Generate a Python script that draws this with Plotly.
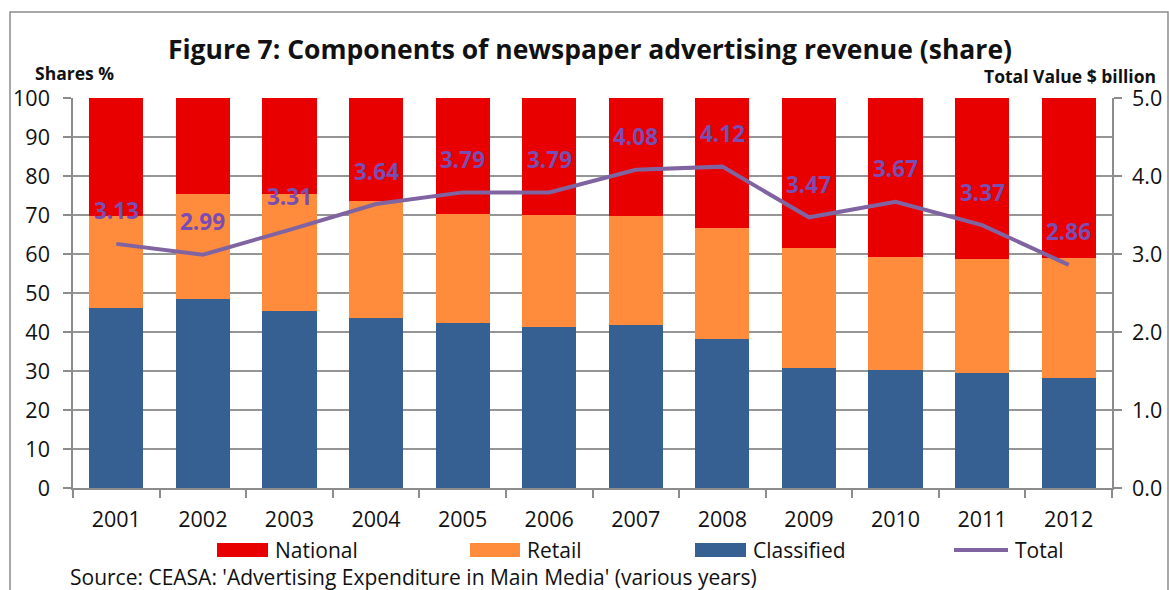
import plotly.graph_objects as go

# ---- data -------------------------------------------------------------
years = ["2001", "2002", "2003", "2004", "2005", "2006",
         "2007", "2008", "2009", "2010", "2011", "2012"]
classified = [46.2, 48.5, 45.4, 43.7, 42.4, 41.4, 41.9, 38.2, 30.8, 30.3, 29.5, 28.2]
retail = [23.5, 26.8, 29.9, 29.9, 27.9, 28.6, 27.8, 28.5, 30.7, 29.0, 29.2, 30.8]
national = [30.3, 24.7, 24.7, 26.4, 29.7, 30.0, 30.3, 33.3, 38.5, 40.7, 41.3, 41.0]
total_value = [3.13, 2.99, 3.31, 3.64, 3.79, 3.79, 4.08, 4.12, 3.47, 3.67, 3.37, 2.86]

series_names = ["National", "Retail", "Classified", "Total"]
title_text = "Figure 7: Components of newspaper advertising revenue (share)"
left_axis_title = "Shares %"
right_axis_title = "Total Value $ billion"
source_text = "Source: CEASA: 'Advertising Expenditure in Main Media' (various years)"

# ---- style ------------------------------------------------------------
C_NAT = "#E80000"
C_RET = "#FF8B3D"
C_CLA = "#376092"
C_TOT = "#8064A2"
C_LBL = "#7A4DB2"
C_AXIS = "#8C8C8C"
FONT = "Open Sans"
TICK_SIZE = 21.5

W, H = 1169, 590
PL, PR, PT, PB = 73, 1112, 98, 488  # plot area in pixels


def px(x):
    return (x - PL) / (PR - PL)


def py(y):
    return (PB - y) / (PB - PT)


fig = go.Figure()

fig.add_trace(go.Bar(x=years, y=classified, name=series_names[2],
                     marker=dict(color=C_CLA, line=dict(width=0))))
fig.add_trace(go.Bar(x=years, y=retail, name=series_names[1],
                     marker=dict(color=C_RET, line=dict(width=0))))
fig.add_trace(go.Bar(x=years, y=national, name=series_names[0],
                     marker=dict(color=C_NAT, line=dict(width=0))))
fig.add_trace(go.Scatter(x=years, y=total_value, name=series_names[3],
                         yaxis="y2", mode="lines",
                         line=dict(color=C_TOT, width=4)))

# value labels above the total line (category index used for x position)
annotations = []
for i, v in enumerate(total_value):
    annotations.append(dict(
        x=i, y=v, xref="x", yref="y2", yshift=33,
        text=f"<b>{v:.2f}</b>", showarrow=False,
        font=dict(family=FONT, size=22.5, color=C_LBL),
        xanchor="center", yanchor="middle"))

# axis titles and source note
annotations += [
    dict(x=px(33), y=py(73), xref="paper", yref="paper", text=f"<b>{left_axis_title}</b>",
         showarrow=False, xanchor="left", yanchor="middle",
         font=dict(family=FONT, size=17.5, color="#111")),
    dict(x=px(1158), y=py(76), xref="paper", yref="paper", text=f"<b>{right_axis_title}</b>",
         showarrow=False, xanchor="right", yanchor="middle",
         font=dict(family=FONT, size=17.5, color="#111")),
    dict(x=px(68), y=py(577), xref="paper", yref="paper", text=source_text,
         showarrow=False, xanchor="left", yanchor="middle",
         font=dict(family=FONT, size=21, color="#111")),
]

# legend drawn as swatches + text
shapes = []
legend_items = [
    (series_names[0], C_NAT, 217, 268, "box"),
    (series_names[1], C_RET, 470, 520, "box"),
    (series_names[2], C_CLA, 695, 746, "box"),
    (series_names[3], C_TOT, 954, 1008, "line"),
]
for name, col, x0, x1, kind in legend_items:
    if kind == "box":
        shapes.append(dict(type="rect", xref="paper", yref="paper",
                           x0=px(x0), x1=px(x1), y0=py(557), y1=py(543),
                           fillcolor=col, line=dict(width=0)))
    else:
        shapes.append(dict(type="line", xref="paper", yref="paper",
                           x0=px(x0), x1=px(x1), y0=py(550), y1=py(550),
                           line=dict(color=col, width=4)))
    annotations.append(dict(x=px(x1 + 5), y=py(550), xref="paper", yref="paper",
                            text=name, showarrow=False, xanchor="left",
                            yanchor="middle",
                            font=dict(family=FONT, size=21, color="#111")))

# outer chart border
shapes.append(dict(type="rect", xref="paper", yref="paper",
                   x0=px(10), x1=px(1168), y0=py(640), y1=py(12),
                   line=dict(color=C_AXIS, width=1.5), fillcolor="rgba(0,0,0,0)",
                   layer="below"))

fig.update_layout(
    width=W, height=H,
    margin=dict(l=PL, r=W - PR, t=PT, b=H - PB, pad=0, autoexpand=False),
    paper_bgcolor="white", plot_bgcolor="white",
    barmode="stack", bargap=0.375,
    showlegend=False,
    font=dict(family=FONT, color="#111"),
    title=dict(text=f"<b>{title_text}</b>", x=590 / W, xanchor="center",
               y=1 - 50 / H, yanchor="middle", xref="container", yref="container",
               font=dict(family=FONT, size=26.5, color="#111")),
    xaxis=dict(type="category", range=[-0.5, len(years) - 0.5],
               showline=True, linecolor=C_AXIS, linewidth=1.5,
               ticks="outside", tickson="boundaries", ticklen=8, tickcolor=C_AXIS,
               tickwidth=1.5, tickfont=dict(size=TICK_SIZE, color="#111"),
               ticklabelstandoff=11, showgrid=False, zeroline=False, automargin=False),
    yaxis=dict(range=[0, 100], dtick=10, showline=True, linecolor=C_AXIS, linewidth=1.5,
               ticks="outside", ticklen=8, tickcolor=C_AXIS, tickwidth=1.5,
               showgrid=True, gridcolor="#959595", gridwidth=1.5, zeroline=False,
               ticklabelstandoff=9, automargin=False,
               tickfont=dict(size=TICK_SIZE, color="#111")),
    yaxis2=dict(range=[0, 5], dtick=1, tickformat=".1f", overlaying="y", side="right",
                showline=True, linecolor=C_AXIS, linewidth=1.5, ticks="outside",
                ticklen=8, tickcolor=C_AXIS, tickwidth=1.5, showgrid=False,
                zeroline=False, ticklabelstandoff=6, automargin=False,
                tickfont=dict(size=TICK_SIZE, color="#111")),
    annotations=annotations,
    shapes=shapes,
)

fig.write_html("out.html")
